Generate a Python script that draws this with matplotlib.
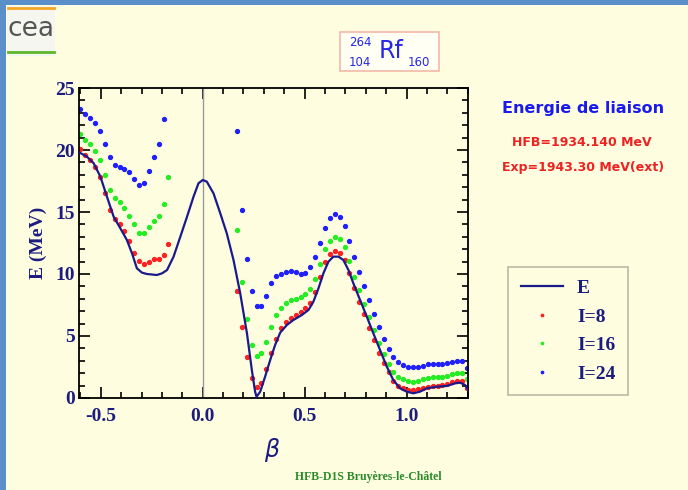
import numpy as np
import matplotlib
matplotlib.use("Agg")
import matplotlib.pyplot as plt
from matplotlib.lines import Line2D
from matplotlib.patches import Rectangle
from matplotlib.ticker import MultipleLocator

# deformation grid of the constrained points (beta)
beta_left = [-0.600, -0.576, -0.552, -0.528, -0.504, -0.480, -0.456, -0.432, -0.408, -0.384,
             -0.360, -0.336, -0.312, -0.288, -0.264, -0.240, -0.216, -0.192, -0.168]
beta_right = [0.168, 0.192, 0.216, 0.240, 0.264, 0.288, 0.312, 0.336, 0.360, 0.384,
              0.408, 0.432, 0.456, 0.480, 0.504, 0.528, 0.552, 0.576, 0.600, 0.624,
              0.648, 0.672, 0.696, 0.720, 0.744, 0.768, 0.792, 0.816, 0.840, 0.864,
              0.888, 0.912, 0.936, 0.960, 0.984, 1.008, 1.032, 1.056, 1.080, 1.104,
              1.128, 1.152, 1.176, 1.200, 1.224, 1.248, 1.272, 1.296]

# I = 8
red_left = [20.1, 19.6, 19.2, 18.6, 17.8, 16.5, 15.2, 14.4, 14.0, 13.5,
            12.7, 11.7, 11.05, 10.8, 11.0, 11.2, 11.2, 11.5, 12.4]
red_right = [8.65, 5.75, 3.33, 1.59, 0.91, 1.24, 2.31, 3.6, 4.78, 5.62,
             6.16, 6.48, 6.69, 6.96, 7.26, 7.69, 8.55, 9.78, 10.97, 11.64,
             11.83, 11.67, 11.13, 10.05, 8.85, 7.72, 6.75, 5.67, 4.68, 3.6,
             2.8, 2.07, 1.4, 0.97, 0.78, 0.65, 0.65, 0.7, 0.83, 0.91,
             0.97, 0.97, 1.05, 1.1, 1.26, 1.4, 1.4, 0.78]
# I = 16
green_left = [21.3, 20.8, 20.45, 19.9, 19.2, 18.0, 16.8, 16.1, 15.8, 15.35,
              14.7, 14.0, 13.3, 13.3, 13.8, 14.3, 14.7, 15.65, 17.85]
green_right = [13.55, 9.35, 6.34, 4.27, 3.39, 3.6, 4.54, 5.75, 6.69, 7.28,
               7.69, 7.9, 8.0, 8.12, 8.39, 8.76, 9.6, 10.8, 12.0, 12.69,
               13.0, 12.8, 12.15, 11.07, 9.78, 8.7, 7.58, 6.5, 5.48, 4.41,
               3.55, 2.74, 2.07, 1.72, 1.5, 1.37, 1.31, 1.4, 1.53, 1.64,
               1.67, 1.67, 1.72, 1.8, 1.94, 2.04, 1.99, 1.5]
# I = 24 (last left point is above the frame)
blue_left = [23.3, 22.9, 22.6, 22.2, 21.55, 20.5, 19.4, 18.8, 18.6, 18.45,
             18.2, 17.7, 17.15, 17.35, 18.3, 19.4, 20.5, 22.5, np.nan]
blue_right = [21.55, 15.2, 11.18, 8.65, 7.42, 7.42, 8.23, 9.3, 9.84, 10.0,
              10.16, 10.27, 10.16, 10.0, 10.1, 10.54, 11.35, 12.53, 13.74, 14.49,
              14.81, 14.6, 13.87, 12.69, 11.4, 10.19, 9.06, 7.9, 6.75, 5.7,
              4.76, 3.95, 3.28, 2.88, 2.66, 2.47, 2.47, 2.47, 2.6, 2.71,
              2.71, 2.71, 2.74, 2.8, 2.93, 3.0, 3.0, 2.4]

# HFB energy curve
E_beta = [-0.607, -0.597, -0.568, -0.535, -0.502, -0.470, -0.437, -0.404, -0.372, -0.347,
          -0.323, -0.298, -0.274, -0.225, -0.200, -0.175, -0.143, -0.110, -0.077, -0.045,
          -0.021, 0.0, 0.020, 0.053, 0.086, 0.118, 0.151, 0.184, 0.217, 0.241,
          0.257, 0.264, 0.282, 0.306, 0.331, 0.355, 0.380, 0.413, 0.445, 0.486,
          0.519, 0.543, 0.568, 0.592, 0.617, 0.641, 0.666, 0.690, 0.715, 0.739,
          0.772, 0.805, 0.837, 0.870, 0.903, 0.935, 0.968, 1.001, 1.033, 1.066,
          1.099, 1.148, 1.197, 1.238, 1.262, 1.287, 1.303]
E_vals = [19.8, 19.73, 19.46, 18.93, 17.85, 16.24, 14.62, 13.68, 12.74, 11.67,
          10.46, 10.11, 10.0, 9.92, 10.05, 10.32, 11.4, 13.0, 14.62, 16.24,
          17.31, 17.58, 17.45, 16.5, 14.9, 13.28, 11.13, 8.44, 5.22, 2.26,
          0.51, 0.1, 0.51, 1.72, 3.06, 4.27, 5.27, 5.89, 6.29, 6.69,
          7.1, 7.77, 8.85, 10.05, 11.0, 11.4, 11.4, 11.13, 10.32, 9.25,
          7.9, 6.56, 5.22, 3.87, 2.53, 1.45, 0.78, 0.51, 0.38, 0.51,
          0.78, 0.91, 0.97, 1.18, 1.24, 1.05, 0.65]

BG = "#fefddf"
FRAME = "#5b8fc9"
NAVY = "#1c1c80"
W, H = 688, 490


def fx(px):
    return px / W


def fy(py):
    return 1 - py / H


fig = plt.figure(figsize=(6.88, 4.9), dpi=100)
fig.patch.set_facecolor(BG)

# slide frame
fig.add_artist(Rectangle((0, 0), fx(6), 1, transform=fig.transFigure, color=FRAME, lw=0))
fig.add_artist(Rectangle((0, fy(5)), 1, 5 / H, transform=fig.transFigure, color=FRAME, lw=0))

# cea logo
fig.add_artist(Rectangle((fx(7), fy(56)), 48 / W, 50 / H, transform=fig.transFigure,
                         color="#f6f6f0", lw=0))
fig.add_artist(Line2D([fx(8), fx(54)], [fy(8), fy(8)], transform=fig.transFigure,
                      color="#f5a623", lw=2))
fig.add_artist(Line2D([fx(8), fx(54)], [fy(52), fy(52)], transform=fig.transFigure,
                      color="#5cb82a", lw=2))
fig.text(fx(31), fy(29), "cea", ha="center", va="center", fontsize=19,
         color="#555555", family="DejaVu Sans")

# nucleus label
fig.add_artist(Rectangle((fx(340), fy(71)), 99 / W, 39 / H, transform=fig.transFigure,
                         facecolor="#fffff4", edgecolor="#f2b8a8", lw=1.2))
fig.text(fx(391), fy(51), "Rf", ha="center", va="center", fontsize=17,
         color="#2626e6", family="DejaVu Sans")
fig.text(fx(360), fy(42), "264", ha="center", va="center", fontsize=8.5,
         color="#2626e6", family="DejaVu Sans")
fig.text(fx(360), fy(62), "104", ha="center", va="center", fontsize=8.5,
         color="#2626e6", family="DejaVu Sans")
fig.text(fx(419), fy(63), "160", ha="center", va="center", fontsize=8.5,
         color="#2626e6", family="DejaVu Sans")

ax = fig.add_axes([fx(79), fy(398), (468.3 - 79) / W, (398 - 88) / H])
ax.set_facecolor(BG)

ax.axvline(0.0, color="#9a9a9a", lw=1)
ax.plot(E_beta, E_vals, color="#1a1a8c", lw=1.6, label="E", zorder=3)
ax.plot(beta_left + beta_right, red_left + red_right, ls="none", marker="o", ms=2.8,
        color="#ff2020", label="I=8")
ax.plot(beta_left + beta_right, green_left + green_right, ls="none", marker="o", ms=2.8,
        color="#22ee22", label="I=16")
ax.plot(beta_left + beta_right, blue_left + blue_right, ls="none", marker="o", ms=2.8,
        color="#2020ff", label="I=24")

ax.set_xlim(-0.607, 1.303)
ax.set_ylim(0, 25)
ax.xaxis.set_major_locator(MultipleLocator(0.5))
ax.xaxis.set_minor_locator(MultipleLocator(0.1))
ax.yaxis.set_major_locator(MultipleLocator(5))
ax.yaxis.set_minor_locator(MultipleLocator(1))
ax.xaxis.set_major_formatter(plt.FormatStrFormatter("%.1f"))
ax.tick_params(which="both", direction="in", top=True, right=True, width=1.2,
               colors="black", labelcolor=NAVY)
ax.tick_params(which="major", length=8)
ax.tick_params(which="minor", length=4)
ax.tick_params(axis="x", pad=7)
ax.tick_params(axis="y", pad=3)
for lab in ax.get_xticklabels() + ax.get_yticklabels():
    lab.set_family("Liberation Serif")
    lab.set_fontweight("bold")
    lab.set_fontsize(14)
for sp in ax.spines.values():
    sp.set_linewidth(1.3)

fig.text(fx(38), fy(243), "E (MeV)", rotation=90, ha="center", va="center",
         fontsize=14, fontweight="bold", color=NAVY, family="Liberation Serif")
fig.text(fx(272), fy(450), r"$\beta$", ha="center", va="center", fontsize=17,
         color=NAVY)

fig.text(fx(583), fy(108), "Energie de liaison", ha="center", va="center",
         fontsize=11.5, fontweight="bold", color="#1a1aee", family="DejaVu Sans")
fig.text(fx(582), fy(143), "HFB=1934.140 MeV", ha="center", va="center",
         fontsize=9, fontweight="bold", color="#ee2222", family="DejaVu Sans")
fig.text(fx(583), fy(167), "Exp=1943.30 MeV(ext)", ha="center", va="center",
         fontsize=9, fontweight="bold", color="#ee2222", family="DejaVu Sans")

leg = ax.legend(loc="upper left", bbox_to_anchor=(fx(508), fy(267)),
                bbox_transform=fig.transFigure, borderaxespad=0, frameon=True,
                fancybox=False, facecolor=BG, edgecolor="#a8a898", handlelength=2.2,
                borderpad=0.65, labelspacing=0.56, handletextpad=0.7,
                prop={"family": "Liberation Serif", "weight": "bold", "size": 14},
                markerscale=0.6)
leg.get_frame().set_linewidth(1.2)
for t in leg.get_texts():
    t.set_color(NAVY)

fig.text(fx(368), fy(477), "HFB-D1S Bruyères-le-Châtel", ha="center", va="center",
         fontsize=8.5, fontweight="bold", color="#2a8a2a", family="Liberation Serif")

fig.savefig("out.png", dpi=100, facecolor=fig.get_facecolor())
